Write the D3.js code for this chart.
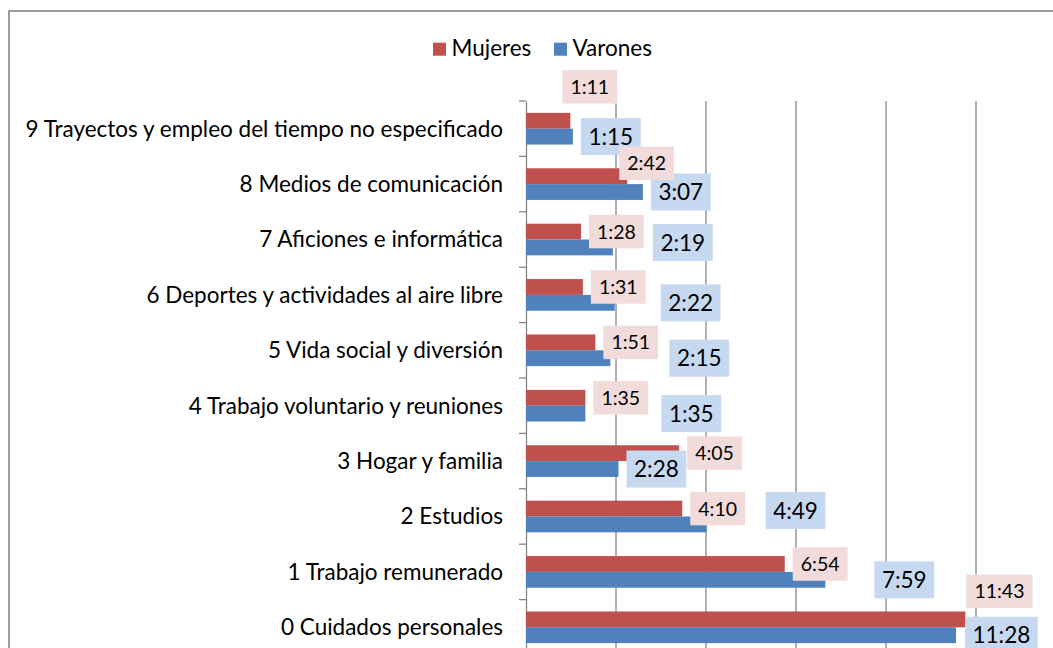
<!DOCTYPE html>
<html>
<head>
<meta charset="utf-8">
<script src="https://cdn.jsdelivr.net/npm/d3@7/dist/d3.min.js"></script>
<style>
    body { margin: 0; background: #fff; }
    text { font-family: Lato, "Open Sans", sans-serif; fill: #000; }
</style>
</head>
<body>
<div id="canvas"></div>
<script>
"use strict"

// ---------------- DATA ----------------
let categories = [
    "0 Cuidados personales",
    "1 Trabajo remunerado",
    "2 Estudios",
    "3 Hogar y familia",
    "4 Trabajo voluntario y reuniones",
    "5 Vida social y diversión",
    "6 Deportes y actividades al aire libre",
    "7 Aficiones e informática",
    "8 Medios de comunicación",
    "9 Trayectos y empleo del tiempo no especificado"
]

let seriesNames = ["Mujeres", "Varones"]

// h:mm per day
let mujeres = ["11:43", "6:54", "4:10", "4:05", "1:35", "1:51", "1:31", "1:28", "2:42", "1:11"]
let varones = ["11:28", "7:59", "4:49", "2:28", "1:35", "2:15", "2:22", "2:19", "3:07", "1:15"]

let xTicks = [0, 0.1, 0.2, 0.3, 0.4, 0.5]

// labels that were dragged away from their default spot (dx, dy in px)
let mujeresNudge = [[-7, -28], [0, 0], [0, 0], [0, 0], [0, 0], [0, 0], [0, 0], [0, 0], [-16, -13], [-16, -34]]
let varonesNudge = [[1, 0], [41, 0], [51, -14], [0, 0], [68, 0], [51, 0], [38, 0], [32, -5], [0, 0], [0, 0]]

// ---------------- SETUP ----------------
let svgWidth = 1053
let svgHeight = 648

let plot = { left: 526, right: 976, top: 101, bottom: 655 }

let colors = { Mujeres: "#C0504D", Varones: "#4F81BD" }
let boxColors = { Mujeres: "#F2DCDB", Varones: "#C6D9F1" }
let labelFont = { Mujeres: 19.5, Varones: 22.5 }
let boxPad = { Mujeres: 16, Varones: 15 }
let boxHeight = { Mujeres: 33.5, Varones: 37 }
let gridColor = "#878787"

function toDays(s) {
    let parts = s.split(":")
    return (+parts[0] * 60 + +parts[1]) / 1440
}

let rows = categories.map(function(c, i) {
    return {
        category: c,
        values: [
            { series: "Mujeres", text: mujeres[i], value: toDays(mujeres[i]), nudge: mujeresNudge[i] },
            { series: "Varones", text: varones[i], value: toDays(varones[i]), nudge: varonesNudge[i] }
        ]
    }
})

let svg = d3.select("#canvas")
    .append("svg")
    .attr("width", svgWidth)
    .attr("height", svgHeight)

// chart frame
svg.append("rect")
    .attr("x", 9)
    .attr("y", 11)
    .attr("width", 1100)
    .attr("height", 700)
    .attr("fill", "none")
    .attr("stroke", gridColor)
    .attr("stroke-width", 1.6)

// ---------------- SCALES ----------------
let xScale = d3.scaleLinear()
    .domain([0, 0.5])
    .range([plot.left, plot.right])

let yScale = d3.scaleBand()
    .domain(categories.slice().reverse())
    .range([plot.top, plot.bottom])

let ySub = d3.scaleBand()
    .domain(seriesNames)
    .range([0, yScale.bandwidth()])
    .paddingInner(0)
    .paddingOuter(0.75)

// ---------------- GRID ----------------
svg.append("g")
    .selectAll("line")
    .data(xTicks.slice(1))
    .enter()
    .append("line")
    .attr("x1", function(d) { return xScale(d) })
    .attr("x2", function(d) { return xScale(d) })
    .attr("y1", plot.top)
    .attr("y2", plot.bottom)
    .attr("stroke", gridColor)
    .attr("stroke-width", 1.3)

// ---------------- Y AXIS ----------------
let yAxis = d3.axisLeft(yScale)
    .tickSize(0)
    .tickSizeOuter(0)
    .tickPadding(23)

let yAxisG = svg.append("g")
    .attr("transform", `translate(${plot.left},0)`)
    .call(yAxis)

yAxisG.select(".domain")
    .attr("stroke", gridColor)
    .attr("stroke-width", 1.3)

yAxisG.selectAll("text")
    .attr("font-family", "Lato, sans-serif")
    .attr("font-size", 22.5)
    .attr("fill", "#000")
    .attr("dy", "0.35em")

// tick marks sit between categories
svg.append("g")
    .selectAll("line")
    .data(categories)
    .enter()
    .append("line")
    .attr("x1", plot.left - 7)
    .attr("x2", plot.left)
    .attr("y1", function(d) { return yScale(d) })
    .attr("y2", function(d) { return yScale(d) })
    .attr("stroke", gridColor)
    .attr("stroke-width", 1.3)

// ---------------- BARS ----------------
let groups = svg.append("g")
    .selectAll("g")
    .data(rows)
    .enter()
    .append("g")
    .attr("transform", function(d) { return `translate(0,${yScale(d.category)})` })

groups.selectAll("rect")
    .data(function(d) { return d.values })
    .enter()
    .append("rect")
    .attr("x", xScale(0))
    .attr("y", function(d) { return ySub(d.series) })
    .attr("width", function(d) { return xScale(d.value) - xScale(0) })
    .attr("height", ySub.bandwidth())
    .attr("fill", function(d) { return colors[d.series] })

// ---------------- DATA LABELS ----------------
let labelData = []
rows.forEach(function(r) {
    r.values.forEach(function(v) {
        labelData.push({
            series: v.series,
            text: v.text,
            x: xScale(v.value) + 8 + v.nudge[0],
            cy: yScale(r.category) + ySub(v.series) + ySub.bandwidth() / 2 + v.nudge[1]
        })
    })
})
// pink boxes end up over the blue ones
labelData.sort(function(a, b) { return a.series === "Varones" ? -1 : 1 })

let labels = svg.append("g")
    .selectAll("g")
    .data(labelData)
    .enter()
    .append("g")
    .attr("transform", function(d) { return `translate(${d.x},${d.cy})` })

labels.append("rect")
    .attr("fill", function(d) { return boxColors[d.series] })
    .attr("y", function(d) { return -boxHeight[d.series] / 2 })
    .attr("height", function(d) { return boxHeight[d.series] })

labels.append("text")
    .attr("font-size", function(d) { return labelFont[d.series] })
    .attr("text-anchor", "middle")
    .attr("dy", "0.36em")
    .text(function(d) { return d.text })

labels.each(function(d) {
    let g = d3.select(this)
    let w = g.select("text").node().getComputedTextLength() + boxPad[d.series]
    g.select("rect").attr("width", w)
    g.select("text").attr("x", w / 2)
})

// ---------------- LEGEND ----------------
let legendPos = [433, 554]

let legend = svg.append("g")
    .selectAll("g")
    .data(seriesNames)
    .enter()
    .append("g")
    .attr("transform", function(d, i) { return `translate(${legendPos[i]},42.7)` })

legend.append("rect")
    .attr("width", 13)
    .attr("height", 13)
    .attr("fill", function(d) { return colors[d] })

legend.append("text")
    .attr("x", 18.5)
    .attr("y", 13.3)
    .attr("font-size", 22.5)
    .text(function(d) { return d })
</script>
</body>
</html>
